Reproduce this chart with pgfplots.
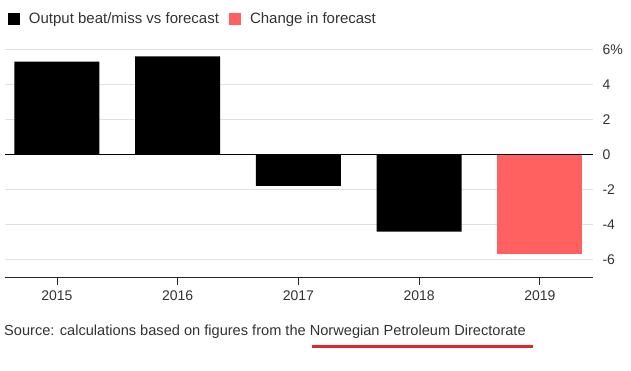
\documentclass[border=0pt]{standalone}
\usepackage{pgfplots}
\pgfplotsset{compat=1.18}
\usepackage{fontspec}
\setmainfont{Liberation Sans}
\definecolor{txt}{HTML}{333333}
\definecolor{barred}{HTML}{FF6161}
\definecolor{gridc}{HTML}{E0E0E0}
\definecolor{ul}{HTML}{E3242B}
\begin{document}
\begin{tikzpicture}[x=1pt,y=1pt]
\useasboundingbox (0,0) rectangle (631,370);
\begin{axis}[
  at={(5pt,93pt)}, anchor=south west,
  scale only axis, width=588pt, height=232.75pt,
  xmin=-0.43, xmax=4.44, ymin=-7, ymax=6.3,
  axis x line*=bottom, axis y line*=right,
  x axis line style={-, black!85, line width=0.8pt},
  y axis line style={draw=none},
  xtick={0,1,2,3,4},
  xticklabels={2015,2016,2017,2018,2019},
  tick align=outside,
  major tick length=8pt,
  x tick style={black!85, line width=0.8pt},
  ytick={-6,-4,-2,0,2,4,6},
  yticklabels={{-6},{-4},{-2},{0},{2},{4},{6\%}},
  y tick style={draw=none},
  ymajorgrids,
  grid style={gridc, line width=1pt},
  ticklabel style={font=\fontsize{14}{16}\selectfont, text=txt},
  yticklabel style={anchor=west, xshift=-2pt},
  xticklabel style={yshift=-2pt},
  legend style={at={(axis description cs:0.005,1.143)}, anchor=north west,
    draw=none, fill=none, inner sep=0pt, outer sep=0pt,
    legend columns=2, font=\fontsize{15}{17}\selectfont, text=txt,
    /tikz/every odd column/.append style={column sep=7pt},
    /tikz/every even column/.append style={column sep=8pt}},
  legend cell align=left,
  legend image code/.code={\fill[#1, draw=none] (0pt,-6pt) rectangle (12pt,6pt);},
]
\addplot[ybar, fill=black, draw=none, bar width=85pt, bar shift=0pt]
  coordinates {(0,5.3) (1,5.6) (2,-1.8) (3,-4.4)};
\addlegendentry{Output beat/miss vs forecast}
\addplot[ybar, fill=barred, draw=none, bar width=85pt, bar shift=0pt]
  coordinates {(4,-5.7)};
\addlegendentry{Change in forecast}
\draw[black, line width=1pt] (axis cs:-0.43,0) -- (axis cs:4.44,0);
\end{axis}
\node[anchor=base west, font=\fontsize{14.6}{17}\selectfont, text=txt, inner sep=0pt] at (4,34.5) {Source: calculations based on figures from the Norwegian Petroleum Directorate};
\draw[ul, line width=3pt] (312,24) -- (533,24);
\end{tikzpicture}
\end{document}
